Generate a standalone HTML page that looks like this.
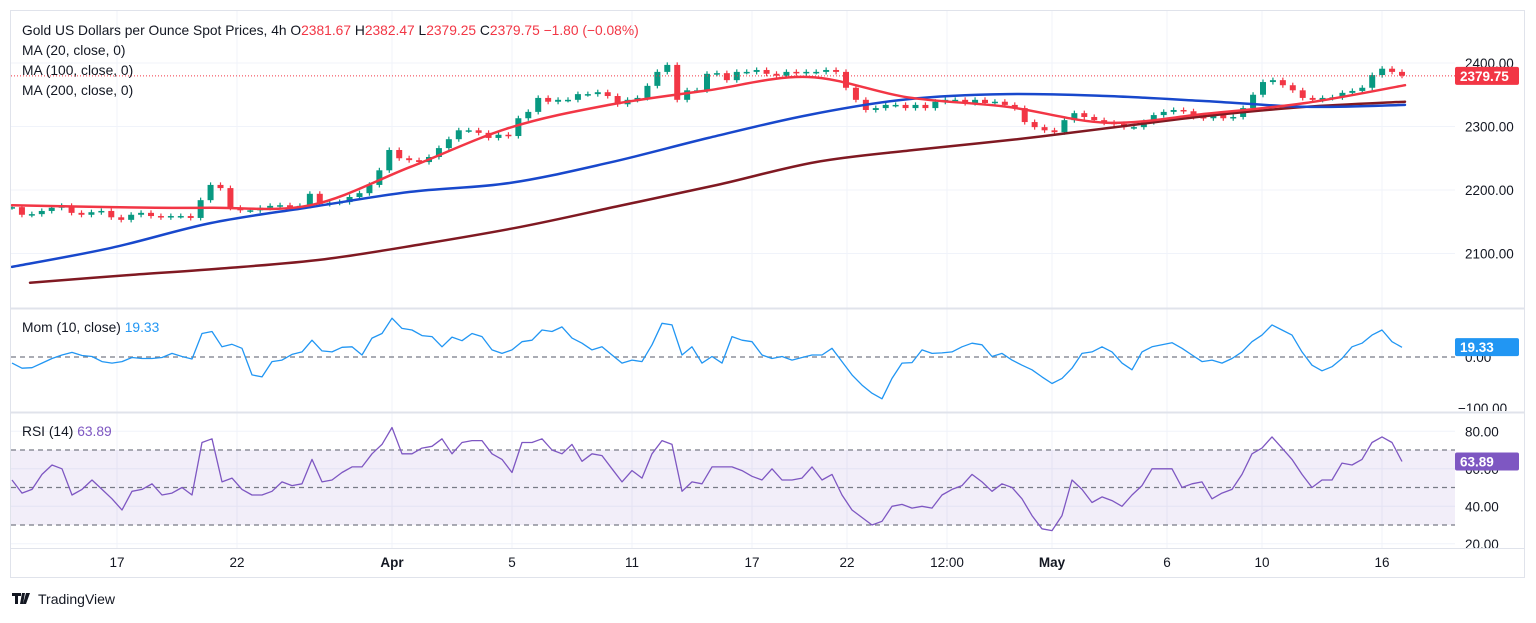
<!DOCTYPE html>
<html><head><meta charset="utf-8"><style>
body{margin:0;background:#fff;width:1536px;height:618px;overflow:hidden;font-family:"Liberation Sans",sans-serif}
svg text{font-family:"Liberation Sans",sans-serif}
</style></head><body>
<svg id="c" width="1536" height="618" xmlns="http://www.w3.org/2000/svg">
<defs>
<clipPath id="cm"><rect x="11" y="11" width="1444" height="297"/></clipPath>
<clipPath id="cmo"><rect x="11" y="309" width="1444" height="103"/></clipPath>
<clipPath id="cr"><rect x="11" y="413" width="1444" height="135"/></clipPath>
</defs>
<g id="grid"></g>
<g id="main" clip-path="url(#cm)"></g>
<g id="mom" clip-path="url(#cmo)"></g>
<g id="rsi" clip-path="url(#cr)"></g>
<g id="axes"></g>
<rect x="10.5" y="10.5" width="1514" height="567" fill="none" stroke="#e0e3eb"/>
<line x1="11" y1="308.5" x2="1524" y2="308.5" stroke="#e0e3eb" stroke-width="2"/>
<line x1="11" y1="412.5" x2="1524" y2="412.5" stroke="#e0e3eb" stroke-width="2"/>
<line x1="11" y1="548.5" x2="1524" y2="548.5" stroke="#e0e3eb"/>
<text x="22" y="35" font-size="13.8" fill="#131722">Gold US Dollars per Ounce Spot Prices, 4h  O<tspan fill="#f23645">2381.67</tspan>  H<tspan fill="#f23645">2382.47</tspan>  L<tspan fill="#f23645">2379.25</tspan>  C<tspan fill="#f23645">2379.75  −1.80 (−0.08%)</tspan></text>
<text x="22" y="55" font-size="13.8" fill="#131722">MA (20, close, 0)</text>
<text x="22" y="75" font-size="13.8" fill="#131722">MA (100, close, 0)</text>
<text x="22" y="95" font-size="13.8" fill="#131722">MA (200, close, 0)</text>
<text x="22" y="332" font-size="13.8" fill="#131722">Mom (10, close)  <tspan fill="#2196f3">19.33</tspan></text>
<text x="22" y="436" font-size="13.8" fill="#131722">RSI (14)  <tspan fill="#7e57c2">63.89</tspan></text>
<g><path d="M12 593h9v3h-3v8h-3v-8h-3z M22 593h3l-2 11h-3z M26 593h4l-4 11h-3z" fill="#131722"/><text x="38" y="604" font-size="14" fill="#131722">TradingView</text></g>
</svg>
<script>
const closes=[2173,2161,2162,2167,2172,2175,2164,2161,2165,2167,2157,2153,2161,2164,2159,2157,2159,2159,2156,2184,2208,2203,2172,2168,2168,2172,2175,2176,2173,2175,2194,2178,2180,2181,2189,2195,2208,2231,2263,2250,2247,2244,2252,2266,2280,2294,2294,2290,2282,2287,2285,2313,2323,2345,2339,2342,2342,2351,2351,2354,2348,2335,2342,2345,2364,2386,2397,2342,2357,2357,2383,2384,2373,2386,2386,2389,2383,2380,2386,2384,2386,2386,2389,2386,2361,2342,2326,2329,2334,2334,2329,2334,2329,2339,2342,2342,2337,2342,2337,2339,2334,2329,2307,2299,2294,2291,2310,2321,2315,2310,2306,2304,2299,2299,2307,2318,2323,2326,2324,2315,2313,2318,2313,2315,2329,2350,2370,2373,2365,2357,2345,2342,2345,2346,2353,2356,2361,2381,2391,2386,2380];
const ma20=[2176,2173,2172,2176,2236,2298,2334,2357,2378,2346,2331,2306,2320,2337,2365];
const ma100=[2079,2109,2148,2173,2197,2211,2243,2282,2318,2343,2351,2348,2340,2331,2334];
const ma200=[2054,2066,2077,2091,2115,2142,2175,2208,2244,2263,2279,2298,2317,2331,2339];
const mom=[-12,-22,-21,-12,-3,4,9,3,1,-9,-12,-9,-1,-3,-3,-1,7,1,-4,46,50,20,25,17,-35,-39,-9,-6,5,10,33,12,10,19,20,4,37,46,76,56,53,42,40,20,39,32,46,40,14,7,14,30,33,53,50,59,37,27,14,20,4,-12,-6,-9,24,66,63,4,20,-12,1,
-12,40,33,30,4,-3,1,-6,-1,4,4,17,-9,-35,-55,-71,-82,-42,-12,-11,14,7,8,10,20,27,24,1,7,-6,-16,-25,-39,-52,-42,-22,7,10,20,10,-12,-25,10,20,24,28,17,4,-9,-6,-12,-3,10,30,43,63,53,43,10,-16,-27,-19,-3,20,27,43,53,30,19];
const rsi=[54,47,49,57,62,60,46,49,54,49,44,38,48,49,52,46,47,50,46,74,76,53,55,49,46,46,48,53,51,52,65,53,54,58,61,61,68,73,82,68,68,71,72,76,68,74,75,75,68,65,58,74,74,76,70,68,73,64,68,67,60,53,59,55,68,75,73,48,53,52,61,
61,61,59,56,54,60,54,54,55,61,54,57,46,38,34,30,32,40,41,39,40,39,46,49,51,57,53,48,52,50,44,35,28,27,35,54,49,42,45,43,40,46,51,60,60,60,50,52,53,44,47,49,57,68,71,77,71,65,57,50,54,54,63,62,65,74,77,74,63.89];
const priceTicks=[2400,2300,2200,2100];
const momTicks=[0,-100];
const rsiTicks=[80,60,40,20];
const timeLabels=["17","22","Apr","5","11","17","22","12:00","May","6","10","16"];
const timeBars=[21,45,76,100,124,148,167,187,208,231,250,274];
const lastPrice=2379.75, lastMom=19.33, lastRsi=63.89;

const NS="http://www.w3.org/2000/svg";
const X0=12,X1=1402;
const py=p=>63+(2400-p)*0.635;
const my=v=>357-v*0.51;
const ry=v=>450+(70-v)*1.875;
const xi=(i,n)=>X0+i*(X1-X0)/(n-1);
const xb=b=>X0+b*(X1-X0)/278;
function mk(tag,attrs,parent){const e=document.createElementNS(NS,tag);for(const k in attrs)e.setAttribute(k,attrs[k]);parent.appendChild(e);return e;}
const G=id=>document.getElementById(id);
const grid=G('grid'),main=G('main'),mo=G('mom'),rs=G('rsi'),ax=G('axes');

priceTicks.forEach(t=>{const l=mk('line',{x1:11,x2:1455,y1:py(t),y2:py(t),stroke:'#f0f3fa'},grid);

});
rsiTicks.forEach(t=>{const l=mk('line',{x1:11,x2:1455,y1:ry(t),y2:ry(t),stroke:'#f0f3fa'},grid);

});
timeBars.forEach((b,i)=>{const l=mk('line',{x1:xb(b),x2:xb(b),y1:11,y2:548,stroke:'#f0f3fa'},grid);


const t=mk('text',{x:xb(b),y:567,'font-size':13.5,'text-anchor':'middle',fill:'#131722','font-weight':(timeLabels[i]=='Apr'||timeLabels[i]=='May')?'bold':'normal'},ax);t.textContent=timeLabels[i];

});

const n=closes.length;
for(let i=0;i<n;i++){const c=closes[i],o=i?closes[i-1]:c;const up=c>=o;const col=up?'#089981':'#f23645';const x=xi(i,n);
const hi=Math.max(o,c)+4,lo=Math.min(o,c)-4;
const w=mk('line',{x1:x,x2:x,y1:py(hi),y2:py(lo),stroke:col,'stroke-width':1.2},main);


const top=py(Math.max(o,c)),h=Math.max(1.5,py(Math.min(o,c))-top);
const r=mk('rect',{x:x-3,y:top,width:6,height:h,fill:col},main);

}

function line(arr,yf,x0,x1,col,w,parent,name){const pts=arr.map((v,i)=>(x0+i*(x1-x0)/(arr.length-1)).toFixed(1)+','+yf(v).toFixed(1)).join(' ');
const p=mk('polyline',{points:pts,fill:'none',stroke:col,'stroke-width':w,'stroke-linejoin':'round'},parent);

}
function smooth(arr,yf,x0,x1,col,w,parent,name){const P=arr.map((v,i)=>[x0+i*(x1-x0)/(arr.length-1),yf(v)]);
let d='M'+P[0][0]+','+P[0][1];
for(let i=0;i<P.length-1;i++){const a=P[Math.max(0,i-1)],b=P[i],c=P[i+1],e=P[Math.min(P.length-1,i+2)];
const c1=[b[0]+(c[0]-a[0])/6,b[1]+(c[1]-a[1])/6],c2=[c[0]-(e[0]-b[0])/6,c[1]-(e[1]-b[1])/6];
d+=` C${c1[0].toFixed(1)},${c1[1].toFixed(1)} ${c2[0].toFixed(1)},${c2[1].toFixed(1)} ${c[0].toFixed(1)},${c[1].toFixed(1)}`;}
const p=mk('path',{d:d,fill:'none',stroke:col,'stroke-width':w,'stroke-linecap':'round'},parent);

}
smooth(ma200,py,30,1405,'#801922',2.5,main,'ma200-line');
smooth(ma100,py,12,1405,'#1848cc',2.5,main,'ma100-line');
smooth(ma20,py,12,1405,'#f23645',2.5,main,'ma20-line');
const pl=mk('line',{x1:11,x2:1455,y1:py(lastPrice),y2:py(lastPrice),stroke:'#f23645','stroke-dasharray':'1 2'},main);



const mz=mk('line',{x1:11,x2:1455,y1:my(0),y2:my(0),stroke:'#787b86','stroke-dasharray':'5 4','stroke-width':1.3},mo);


line(mom,my,12,1402,'#2196f3',1.3,mo,'mom-line');

const band=mk('rect',{x:11,y:ry(70),width:1444,height:ry(30)-ry(70),fill:'#7e57c2','fill-opacity':0.1},rs);


[70,50,30].forEach(v=>{const l=mk('line',{x1:11,x2:1455,y1:ry(v),y2:ry(v),stroke:'#787b86','stroke-dasharray':'5 4','stroke-width':1.3},rs);

});
line(rsi,ry,12,1402,'#7e57c2',1.3,rs,'rsi-line');

priceTicks.forEach(t=>{const e=mk('text',{x:1465,y:py(t)+5,'font-size':13.5,fill:'#131722'},ax);e.textContent=t.toFixed(2);

});
momTicks.forEach(t=>{const e=mk('text',{x:t<0?1458:1465,y:my(t)+5,'font-size':13.5,fill:'#131722'},ax);e.textContent=(t<0?'−':'')+Math.abs(t).toFixed(2);

});
rsiTicks.forEach(t=>{const e=mk('text',{x:1465,y:ry(t)+5,'font-size':13.5,fill:'#131722'},ax);e.textContent=t.toFixed(2);

});
[[1456,411,68,3],[1456,549,68,10]].forEach(r=>{const m=mk('rect',{x:r[0],y:r[1],width:r[2],height:r[3],fill:'#fff'},ax);

});
function tag(v,yv,col,txt,name){const g=mk('g',{},ax);


mk('rect',{x:1455,y:yv-9,width:64,height:18,rx:2,fill:col},g);
const t=mk('text',{x:1460,y:yv+5,'font-size':13.5,'font-weight':'bold',fill:'#fff'},g);t.textContent=txt;}
tag(lastPrice,py(lastPrice),'#f23645','2379.75','price-tag');
tag(lastMom,my(lastMom),'#2196f3','19.33','mom-tag');
tag(lastRsi,ry(lastRsi),'#7e57c2','63.89','rsi-tag');
</script>
</body></html>
